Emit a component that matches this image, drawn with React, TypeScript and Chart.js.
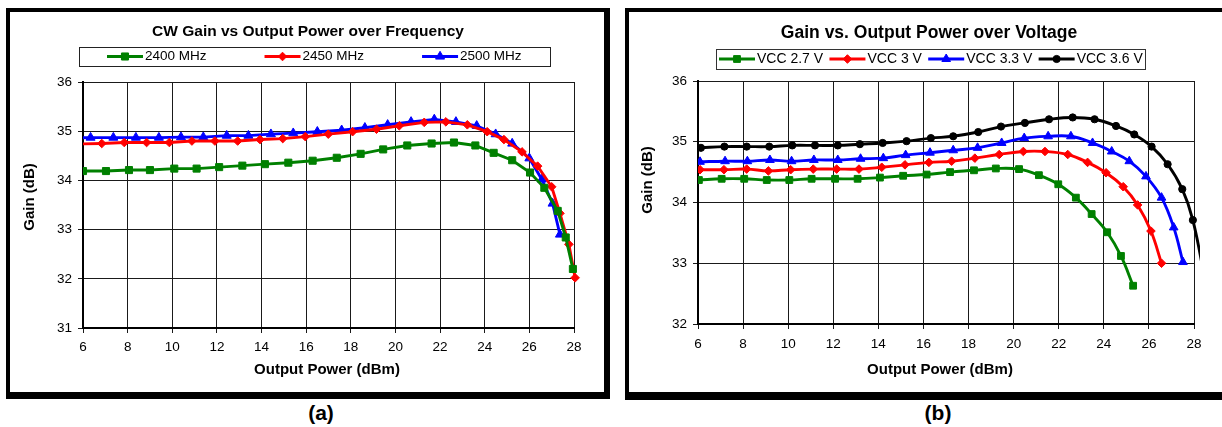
import React, { useEffect, useRef } from 'react';
import { Chart, registerables } from 'chart.js';

Chart.register(...registerables);

const FONT = '"Liberation Sans", Arial, Helvetica, sans-serif';

// ---------- Chart (a) data ----------
const aTitle = 'CW Gain vs Output Power over Frequency';
const aXTitle = 'Output Power (dBm)';
const aYTitle = 'Gain (dB)';
const aXTicks = [6, 8, 10, 12, 14, 16, 18, 20, 22, 24, 26, 28];
const aYTicks = [31, 32, 33, 34, 35, 36];
const aNames = ['2400 MHz', '2450 MHz', '2500 MHz'];

const a2400X = [6.0, 7.03, 8.06, 9.0, 10.09, 11.09, 12.1, 13.14, 14.15, 15.2, 16.29, 17.37, 18.44, 19.45, 20.53, 21.62, 22.62, 23.58, 24.4, 25.23, 26.03, 26.67, 27.27, 27.63, 27.95];
const a2400Y = [34.19, 34.19, 34.21, 34.21, 34.24, 34.24, 34.27, 34.3, 34.33, 34.36, 34.4, 34.46, 34.54, 34.63, 34.71, 34.75, 34.77, 34.71, 34.56, 34.41, 34.16, 33.85, 33.38, 32.84, 32.2];

const a2450X = [5.83, 6.84, 7.85, 8.85, 9.87, 10.88, 11.91, 12.93, 13.93, 14.95, 15.96, 16.99, 18.08, 19.15, 20.17, 21.29, 22.26, 23.22, 24.11, 24.86, 25.67, 26.37, 27.0, 27.37, 27.77, 28.05];
const a2450Y = [34.74, 34.75, 34.77, 34.77, 34.77, 34.8, 34.8, 34.8, 34.83, 34.85, 34.89, 34.94, 34.99, 35.04, 35.11, 35.18, 35.19, 35.13, 34.99, 34.83, 34.58, 34.29, 33.87, 33.33, 32.7, 32.02];

const a2500X = [5.32, 6.34, 7.36, 8.37, 9.4, 10.39, 11.39, 12.44, 13.41, 14.42, 15.42, 16.5, 17.59, 18.63, 19.65, 20.7, 21.74, 22.71, 23.64, 24.49, 25.23, 26.0, 26.56, 27.04, 27.37];
const a2500Y = [34.86, 34.87, 34.87, 34.87, 34.87, 34.88, 34.88, 34.91, 34.91, 34.94, 34.96, 34.99, 35.02, 35.07, 35.13, 35.19, 35.24, 35.19, 35.11, 34.94, 34.75, 34.45, 34.02, 33.53, 32.9];

// ---------- Chart (b) data ----------
const bTitle = 'Gain vs. Output Power over Voltage';
const bXTitle = 'Output Power (dBm)';
const bYTitle = 'Gain (dB)';
const bXTicks = [6, 8, 10, 12, 14, 16, 18, 20, 22, 24, 26, 28];
const bYTicks = [32, 33, 34, 35, 36];
const bNames = ['VCC 2.7 V', 'VCC 3 V', 'VCC 3.3 V', 'VCC 3.6 V'];

const b27X = [6.04, 7.05, 8.05, 9.05, 10.05, 11.04, 12.08, 13.08, 14.07, 15.1, 16.14, 17.18, 18.24, 19.21, 20.24, 21.12, 21.98, 22.76, 23.46, 24.15, 24.76, 25.3];
const b27Y = [34.37, 34.39, 34.39, 34.37, 34.37, 34.39, 34.39, 34.39, 34.41, 34.44, 34.46, 34.5, 34.53, 34.56, 34.55, 34.45, 34.3, 34.08, 33.81, 33.51, 33.12, 32.63];

const b30X = [6.09, 7.15, 8.16, 9.12, 10.11, 11.11, 12.15, 13.14, 14.15, 15.18, 16.24, 17.25, 18.28, 19.36, 20.43, 21.39, 22.4, 23.28, 24.1, 24.86, 25.5, 26.09, 26.56];
const b30Y = [34.54, 34.54, 34.55, 34.52, 34.54, 34.55, 34.55, 34.55, 34.58, 34.62, 34.66, 34.68, 34.73, 34.79, 34.84, 34.84, 34.79, 34.66, 34.49, 34.26, 33.96, 33.53, 33.0];

const b33X = [6.09, 7.2, 8.19, 9.19, 10.15, 11.14, 12.2, 13.21, 14.22, 15.21, 16.29, 17.32, 18.4, 19.47, 20.47, 21.53, 22.54, 23.5, 24.35, 25.13, 25.87, 26.56, 27.1, 27.51];
const b33Y = [34.67, 34.68, 34.68, 34.7, 34.68, 34.7, 34.7, 34.72, 34.73, 34.78, 34.82, 34.86, 34.9, 34.98, 35.06, 35.09, 35.09, 34.98, 34.84, 34.68, 34.43, 34.08, 33.59, 33.02];

const b36X = [6.13, 7.17, 8.16, 9.16, 10.18, 11.19, 12.2, 13.18, 14.19, 15.25, 16.33, 17.32, 18.43, 19.44, 20.5, 21.57, 22.62, 23.59, 24.54, 25.35, 26.12, 26.83, 27.48, 27.95, 28.5];
const b36Y = [34.9, 34.92, 34.92, 34.92, 34.94, 34.94, 34.94, 34.96, 34.98, 35.01, 35.06, 35.09, 35.16, 35.25, 35.31, 35.37, 35.4, 35.37, 35.26, 35.12, 34.92, 34.63, 34.22, 33.71, 32.7];

const GREEN = '#008000';
const RED = '#ff0000';
const BLUE = '#0000ff';
const BLACK = '#000000';

const pts = (xs: number[], ys: number[]) => xs.map((x, i) => ({ x, y: ys[i] }));

function drawMarker(ctx: CanvasRenderingContext2D, style: string, x: number, y: number, r: number, color: string) {
  ctx.beginPath();
  if (style === 'rect') {
    const s = r * Math.SQRT1_2;
    ctx.rect(x - s, y - s, 2 * s, 2 * s);
  } else if (style === 'rectRot') {
    ctx.moveTo(x, y - r);
    ctx.lineTo(x + r, y);
    ctx.lineTo(x, y + r);
    ctx.lineTo(x - r, y);
    ctx.closePath();
  } else if (style === 'triangle') {
    for (let i = 0; i < 3; i++) {
      const a = (i * 2 * Math.PI) / 3;
      const px = x + Math.sin(a) * r;
      const py = y - Math.cos(a) * r;
      if (i === 0) ctx.moveTo(px, py);
      else ctx.lineTo(px, py);
    }
    ctx.closePath();
  } else {
    ctx.arc(x, y, r, 0, Math.PI * 2);
  }
  ctx.fillStyle = color;
  ctx.fill();
  ctx.lineWidth = 1;
  ctx.strokeStyle = color;
  ctx.stroke();
}

const decorPlugin = {
  id: 'decor',
  afterDraw(chart: any, _args: any, o: any) {
    const ctx: CanvasRenderingContext2D = chart.ctx;
    ctx.save();
    ctx.fillStyle = '#000';
    ctx.textAlign = 'center';
    ctx.textBaseline = 'middle';
    ctx.font = o.titleFont;
    ctx.fillText(o.title, o.titleX, o.titleY);
    ctx.font = o.axisFont;
    ctx.fillText(o.xTitle, o.xTitleX, o.xTitleY);
    ctx.save();
    ctx.translate(o.yTitleX, o.yTitleY);
    ctx.rotate(-Math.PI / 2);
    ctx.fillText(o.yTitle, 0, 0);
    ctx.restore();
    // legend
    const [bx, by, bw, bh] = o.legendBox;
    ctx.lineWidth = 1;
    ctx.strokeStyle = o.legendBorder;
    ctx.strokeRect(bx + 0.5, by + 0.5, bw, bh);
    ctx.font = o.legendFont;
    ctx.textAlign = 'left';
    let x = o.legendStartX;
    const y = o.legendY;
    chart.data.datasets.forEach((ds: any) => {
      ctx.strokeStyle = ds.borderColor;
      ctx.lineWidth = ds.borderWidth;
      ctx.lineCap = 'butt';
      ctx.beginPath();
      ctx.moveTo(x, y);
      ctx.lineTo(x + o.legendLine, y);
      ctx.stroke();
      drawMarker(ctx, ds.pointStyle, x + o.legendLine / 2, y, ds.pointRadius, ds.borderColor);
      ctx.fillStyle = '#000';
      ctx.fillText(ds.label, x + o.legendLine + 2, y);
      x += o.legendLine + 2 + ctx.measureText(ds.label).width + o.legendGap;
    });
    ctx.restore();
  },
};

function makeScales(xTicks: number[], yTicks: number[], yWidth: number, xHeight: number, xPad: number) {
  const tickFont = { family: FONT, size: 13.5 };
  const grid = { color: '#1a1a1a', lineWidth: 1, tickLength: 5, drawTicks: true };
  const border = { color: '#000', width: 2 };
  return {
    x: {
      type: 'linear',
      min: xTicks[0],
      max: xTicks[xTicks.length - 1],
      afterBuildTicks: (s: any) => {
        s.ticks = xTicks.map((v) => ({ value: v }));
      },
      afterFit: (s: any) => {
        s.height = xHeight;
        s.paddingLeft = 0;
        s.paddingRight = 0;
      },
      ticks: { font: tickFont, color: '#000', padding: xPad, maxRotation: 0, autoSkip: false },
      grid,
      border,
    },
    y: {
      type: 'linear',
      min: yTicks[0],
      max: yTicks[yTicks.length - 1],
      afterBuildTicks: (s: any) => {
        s.ticks = yTicks.map((v) => ({ value: v }));
      },
      afterFit: (s: any) => {
        s.width = yWidth;
        s.paddingTop = 0;
        s.paddingBottom = 0;
      },
      ticks: { font: tickFont, color: '#000', padding: 6, autoSkip: false },
      grid,
      border,
    },
  };
}

function series(label: string, xs: number[], ys: number[], color: string, style: string, r: number, tension: number, clip: any) {
  return {
    label,
    data: pts(xs, ys),
    borderColor: color,
    backgroundColor: color,
    borderWidth: 2.9,
    pointStyle: style,
    pointRadius: r,
    pointBorderWidth: 1,
    pointBackgroundColor: color,
    pointBorderColor: color,
    tension,
    clip,
  };
}

export default function App() {
  const refA = useRef<HTMLCanvasElement>(null);
  const refB = useRef<HTMLCanvasElement>(null);

  useEffect(() => {
    const clipA = { left: 0, top: 10, right: 10, bottom: 10 };
    const chartA = new Chart(refA.current as HTMLCanvasElement, {
      type: 'line',
      data: {
        datasets: [
          series(aNames[0], a2400X, a2400Y, GREEN, 'rect', 5.0, 0, clipA),
          series(aNames[1], a2450X, a2450Y, RED, 'rectRot', 4.3, 0, clipA),
          series(aNames[2], a2500X, a2500Y, BLUE, 'triangle', 5.2, 0, clipA),
        ] as any,
      },
      options: {
        responsive: false,
        animation: false,
        devicePixelRatio: 1,
        events: [],
        layout: { padding: { left: 0, top: 70, right: 30, bottom: 0 } },
        scales: makeScales(aXTicks, aYTicks, 73, 64, 6) as any,
        plugins: {
          legend: { display: false },
          title: { display: false },
          tooltip: { enabled: false },
          decor: {
            title: aTitle,
            titleFont: `bold 15.5px ${FONT}`,
            titleX: 298,
            titleY: 20,
            axisFont: `bold 15px ${FONT}`,
            xTitle: aXTitle,
            xTitleX: 317,
            xTitleY: 358,
            yTitle: aYTitle,
            yTitleX: 20,
            yTitleY: 185,
            legendBox: [69, 35, 471, 19],
            legendBorder: '#222',
            legendFont: `13.5px ${FONT}`,
            legendStartX: 97,
            legendY: 44.5,
            legendLine: 36,
            legendGap: 58,
          },
        } as any,
      },
      plugins: [decorPlugin],
    });

    const clipB = { left: 0, top: 10, right: 6, bottom: 10 };
    const chartB = new Chart(refB.current as HTMLCanvasElement, {
      type: 'line',
      data: {
        datasets: [
          series(bNames[0], b27X, b27Y, GREEN, 'rect', 4.8, 0.4, clipB),
          series(bNames[1], b30X, b30Y, RED, 'rectRot', 4.3, 0.4, clipB),
          series(bNames[2], b33X, b33Y, BLUE, 'triangle', 5.0, 0.4, clipB),
          series(bNames[3], b36X, b36Y, BLACK, 'circle', 3.6, 0.4, clipB),
        ] as any,
      },
      options: {
        responsive: false,
        animation: false,
        devicePixelRatio: 1,
        events: [],
        layout: { padding: { left: 0, top: 69, right: 28, bottom: 0 } },
        scales: makeScales(bXTicks, bYTicks, 69, 68, 7) as any,
        plugins: {
          legend: { display: false },
          title: { display: false },
          tooltip: { enabled: false },
          decor: {
            title: bTitle,
            titleFont: `bold 17.5px ${FONT}`,
            titleX: 300,
            titleY: 21,
            axisFont: `bold 15px ${FONT}`,
            xTitle: bXTitle,
            xTitleX: 311,
            xTitleY: 358,
            yTitle: bYTitle,
            yTitleX: 19,
            yTitleY: 168,
            legendBox: [87, 37, 429, 20],
            legendBorder: '#333',
            legendFont: `14px ${FONT}`,
            legendStartX: 90,
            legendY: 47,
            legendLine: 36,
            legendGap: 6.3,
          },
        } as any,
      },
      plugins: [decorPlugin],
    });

    return () => {
      chartA.destroy();
      chartB.destroy();
    };
  }, []);

  const boxBase: React.CSSProperties = {
    position: 'absolute',
    top: 8,
    height: 380,
    borderStyle: 'solid',
    borderColor: '#000',
    background: '#fff',
  };
  const labelStyle: React.CSSProperties = {
    position: 'absolute',
    top: 401,
    width: 80,
    textAlign: 'center',
    font: `bold 21px ${FONT}`,
    lineHeight: '24px',
    color: '#000',
  };

  return (
    <div
      style={{
        position: 'fixed',
        left: 0,
        top: 0,
        width: 1222,
        height: 427,
        overflow: 'hidden',
        background: '#fff',
        fontFamily: FONT,
      }}
    >
      <div style={{ ...boxBase, left: 6, width: 594, borderWidth: '4px 6px 7px 4px' }}>
        <canvas ref={refA} width={594} height={380} style={{ display: 'block' }} />
      </div>
      <div style={{ ...boxBase, left: 625, width: 593, borderWidth: '4px 6px 8px 4px' }}>
        <canvas ref={refB} width={593} height={380} style={{ display: 'block' }} />
      </div>
      <div style={{ ...labelStyle, left: 321 - 40 }}>(a)</div>
      <div style={{ ...labelStyle, left: 938 - 40 }}>(b)</div>
    </div>
  );
}
